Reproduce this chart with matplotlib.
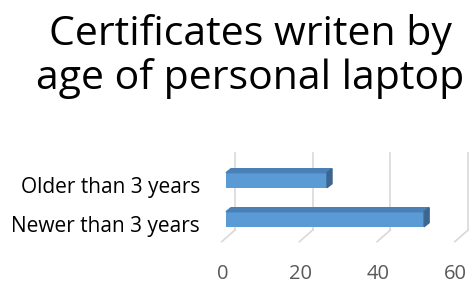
import numpy as np
import matplotlib.pyplot as plt
from matplotlib.patches import Polygon
from matplotlib.transforms import ScaledTranslation

plt.rcParams['font.family'] = ['Open Sans', 'DejaVu Sans']

# Data
categories = ['Newer than 3 years', 'Older than 3 years']
values = [51, 26]
xticks = [0, 20, 40, 60]
title_lines = ['Certificates writen by', 'age of personal laptop']

W, H = 472, 286
fig = plt.figure(figsize=(W / 100, H / 100), dpi=100)
# axes placed in pixel space: left 200, right 472, top 150, bottom 245
ax = fig.add_axes([200 / W, 1 - 245 / H, 272 / W, 95 / H])

px_per_unit = 77.7 / 20
x0_px = 226 - 200
ax.set_xlim(-x0_px / px_per_unit, (272 - x0_px) / px_per_unit)
row_px = 39
ax.set_ylim(-(245 - 219.2) / row_px, (219.2 - 150) / row_px)

for s in ax.spines.values():
    s.set_visible(False)
ax.tick_params(length=0)

ypos = np.arange(len(categories))
bar_h = 15 / row_px
front = '#5B9BD5'
top_c = '#4A80B5'
side_c = '#3C6690'

# depth offsets for 3D look, in data units
ddx = 5 / px_per_unit
ddy = 4 / row_px

# gridlines: back walls and floor diagonals
back_dx, back_dy = 9 / px_per_unit, (219.2 - 230) / row_px
front_dx, front_dy = -4.3 / px_per_unit, (219.2 - 241.7) / row_px
top_y = (219.2 - 153) / row_px
for t in xticks:
    ax.plot([t + back_dx, t + back_dx], [back_dy, top_y], color='#D9D9D9', lw=1.2, zorder=0)
    ax.plot([t + back_dx, t + front_dx], [back_dy, front_dy], color='#D9D9D9', lw=1.2, zorder=0)

bars = ax.barh(ypos, values, height=bar_h, color=front, zorder=3)
for b in bars:
    x, y = b.get_x(), b.get_y()
    w, h = b.get_width(), b.get_height()
    topf = Polygon([[x, y + h], [x + ddx, y + h + ddy], [x + w + ddx, y + h + ddy], [x + w, y + h]],
                   closed=True, color=top_c, zorder=3)
    sidef = Polygon([[x + w, y], [x + w, y + h], [x + w + ddx, y + h + ddy], [x + w + ddx, y + ddy]],
                    closed=True, color=side_c, zorder=3)
    ax.add_patch(topf)
    ax.add_patch(sidef)

ax.set_xticks(xticks)
ax.set_xticklabels([str(t) for t in xticks], fontsize=14.5, color='#595959')
ax.tick_params(axis='x', pad=14)
off = ScaledTranslation(-3.5 / 100, 0, fig.dpi_scale_trans)
for lab in ax.get_xticklabels():
    lab.set_transform(lab.get_transform() + off)

ax.set_yticks(ypos)
ax.set_yticklabels(categories, fontsize=15, color='#000000')
ax.tick_params(axis='y', pad=0)
offy = ScaledTranslation(0, -5 / 100, fig.dpi_scale_trans)
for lab in ax.get_yticklabels():
    lab.set_transform(lab.get_transform() + offy)

# two-line title, baselines at ~45 px and ~89 px from the top
for line, base in zip(title_lines, [45, 89]):
    fig.text(250 / W, 1 - base / H, line, ha='center', va='baseline',
             fontsize=29.5, color='#000000')

fig.savefig('out.png', dpi=100)
